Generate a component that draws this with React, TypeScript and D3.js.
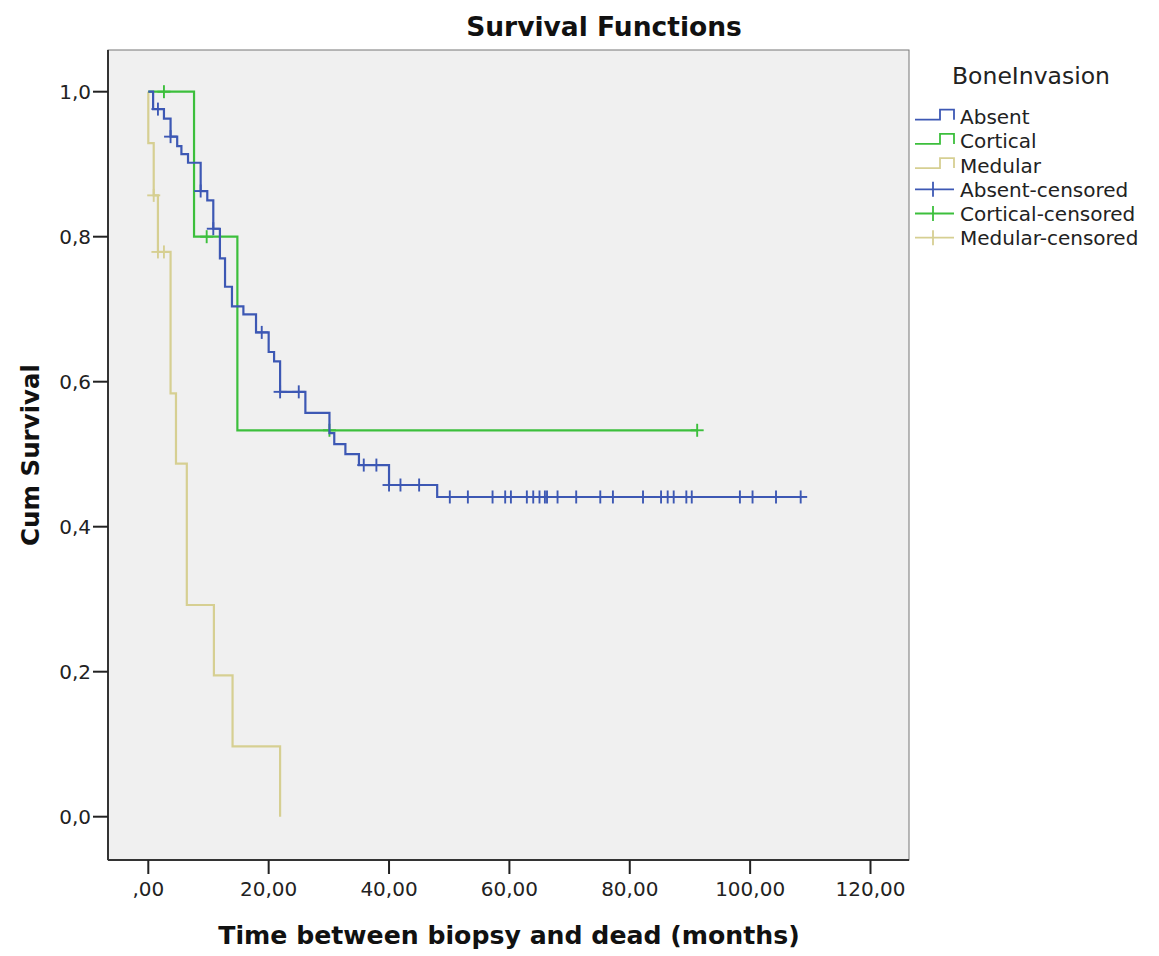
import React from "react";
import * as d3 from "d3";

// ---------- data ----------
const xTicks = [0, 20, 40, 60, 80, 100, 120];
const xTickLabels = [",00", "20,00", "40,00", "60,00", "80,00", "100,00", "120,00"];
const yTicks = [0, 0.2, 0.4, 0.6, 0.8, 1.0];
const yTickLabels = ["0,0", "0,2", "0,4", "0,6", "0,8", "1,0"];

// Absent: event times and survival after each step
const absentTimes = [0.8, 2.6, 3.7, 4.8, 5.5, 6.6, 8.7, 9.8, 10.8, 11.9, 12.75, 13.9, 15.8, 17.9, 20.0, 20.9, 21.9, 26.1, 30.1, 30.9, 32.75, 35.0, 40.0, 48.0];
const absentSurv = [0.976, 0.963, 0.938, 0.925, 0.914, 0.902, 0.863, 0.850, 0.811, 0.770, 0.731, 0.704, 0.693, 0.668, 0.641, 0.628, 0.586, 0.557, 0.529, 0.514, 0.500, 0.485, 0.4575, 0.441];
const absentCensorTimes = [1.6, 3.7, 8.7, 10.8, 18.85, 21.9, 25.0, 35.8, 37.9, 40.0, 41.9, 45.0, 50.1, 53.1, 57.2, 59.3, 60.25, 62.9, 63.96, 65.0, 65.9, 66.25, 68.0, 71.1, 75.1, 77.2, 82.2, 85.2, 86.3, 87.3, 89.4, 90.3, 98.3, 100.4, 104.3, 108.4];

// Cortical
const corticalTimes = [7.6, 14.8];
const corticalSurv = [0.8, 0.533];
const corticalCensorTimes = [2.6, 9.7, 30.1, 91.2];

// Medular
const medularTimes = [0.0, 0.9, 1.6, 3.7, 4.6, 6.4, 10.9, 14.0, 21.9];
const medularSurv = [0.929, 0.857, 0.779, 0.584, 0.487, 0.292, 0.195, 0.097, 0.0];
const medularCensorTimes = [0.9, 1.6, 2.6];

const groupNames = ["Absent", "Cortical", "Medular"];
const groupColors = ["#3d58b4", "#3cbf3c", "#d6cf92"];

// ---------- layout ----------
const W = 1159, H = 956;
const frame = { left: 108, right: 909, top: 50, bottom: 860 };
const x = d3.scaleLinear().domain([0, 120]).range([148.3, 870.5]);
const y = d3.scaleLinear().domain([0, 1]).range([816.7, 91.7]);
const FONT = "'DejaVu Sans', Verdana, sans-serif";

function survAt(times: number[], surv: number[], t: number) {
  let s = 1;
  for (let i = 0; i < times.length; i++) if (times[i] <= t) s = surv[i];
  return s;
}

function stepPath(times: number[], surv: number[], endT: number) {
  const pts: [number, number][] = [[0, 1]];
  times.forEach((t, i) => pts.push([t, surv[i]]));
  if (endT > times[times.length - 1]) pts.push([endT, surv[surv.length - 1]]);
  const line = d3.line<[number, number]>().x(d => x(d[0])).y(d => y(d[1])).curve(d3.curveStepAfter);
  return line(pts) || "";
}

const series = [
  { times: absentTimes, surv: absentSurv, cens: absentCensorTimes },
  { times: corticalTimes, surv: corticalSurv, cens: corticalCensorTimes },
  { times: medularTimes, surv: medularSurv, cens: medularCensorTimes },
];

export default function App() {
  const legendRows = [116.7, 140.9, 165.1, 189.3, 213.5, 237.7];
  return (
    <svg width={W} height={H} style={{ display: "block", position: "absolute", left: 0, top: 0 }} fontFamily={FONT}>
      <rect x={0} y={0} width={W} height={H} fill="#ffffff" />
      <text x={604} y={36} textAnchor="middle" fontSize={26.5} fontWeight="bold" fill="#111">Survival Functions</text>
      <rect x={frame.left} y={frame.top} width={frame.right - frame.left} height={frame.bottom - frame.top} fill="#f0f0f0" stroke="#777" strokeWidth={1} />
      {/* axes */}
      <line x1={frame.left} x2={frame.left} y1={frame.top} y2={frame.bottom} stroke="#333" strokeWidth={2} />
      <line x1={frame.left} x2={frame.right} y1={frame.bottom} y2={frame.bottom} stroke="#333" strokeWidth={2} />
      {yTicks.map((v, i) => (
        <g key={"y" + i}>
          <line x1={93} x2={frame.left} y1={y(v)} y2={y(v)} stroke="#222" strokeWidth={2} />
          <text x={91} y={y(v) + 7} textAnchor="end" fontSize={20} fill="#222">{yTickLabels[i]}</text>
        </g>
      ))}
      {xTicks.map((v, i) => (
        <g key={"x" + i}>
          <line x1={x(v)} x2={x(v)} y1={frame.bottom} y2={874} stroke="#222" strokeWidth={2} />
          <text x={x(v)} y={896} textAnchor="middle" fontSize={20} fill="#222">{xTickLabels[i]}</text>
        </g>
      ))}
      <text x={509} y={944} textAnchor="middle" fontSize={25.2} fontWeight="bold" fill="#111">Time between biopsy and dead (months)</text>
      <text transform={`translate(39,455) rotate(-90)`} textAnchor="middle" fontSize={24.5} fontWeight="bold" fill="#111">Cum Survival</text>

      {/* curves, drawn medular first so blue is on top */}
      {[2, 1, 0].map(gi => {
        const s = series[gi];
        const endT = Math.max(s.times[s.times.length - 1], ...s.cens);
        return (
          <g key={"s" + gi}>
            <path d={stepPath(s.times, s.surv, endT)} fill="none" stroke={groupColors[gi]} strokeWidth={2.2} />
            {s.cens.map((t, j) => {
              const cx = x(t), cy = y(survAt(s.times, s.surv, t));
              return (
                <g key={j} stroke={groupColors[gi]} strokeWidth={1.9}>
                  <line x1={cx} x2={cx} y1={cy - 6.5} y2={cy + 6.5} />
                  <line x1={cx - 6.5} x2={cx + 6.5} y1={cy} y2={cy} />
                </g>
              );
            })}
          </g>
        );
      })}

      {/* legend */}
      <text x={1031} y={84} textAnchor="middle" fontSize={23.5} fill="#222">BoneInvasion</text>
      {groupNames.map((g, i) => {
        const cy = legendRows[i];
        return (
          <g key={"l" + i}>
            <path d={`M915,${cy + 3}H940V${cy - 7}H954V${cy + 3}`} fill="none" stroke={groupColors[i]} strokeWidth={1.8} />
            <text x={960} y={cy + 7.5} fontSize={20} fill="#222">{g}</text>
          </g>
        );
      })}
      {groupNames.map((g, i) => {
        const cy = legendRows[i + 3];
        return (
          <g key={"c" + i}>
            <line x1={915} x2={954} y1={cy} y2={cy} stroke={groupColors[i]} strokeWidth={1.8} />
            <line x1={933} x2={933} y1={cy - 7.5} y2={cy + 7.5} stroke={groupColors[i]} strokeWidth={1.8} />
            <text x={960} y={cy + 7.5} fontSize={20} fill="#222">{g + "-censored"}</text>
          </g>
        );
      })}
    </svg>
  );
}
